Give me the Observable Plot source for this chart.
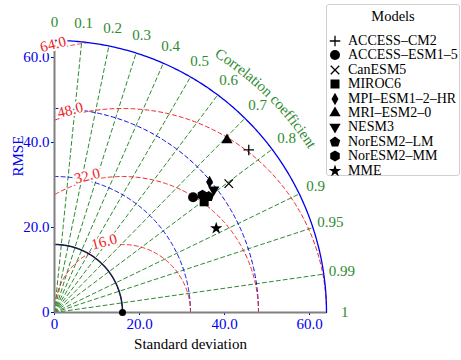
<!DOCTYPE html>
<html><head><meta charset="utf-8">
<script src="https://cdn.jsdelivr.net/npm/d3@7"></script>
<script src="https://cdn.jsdelivr.net/npm/@observablehq/plot@0.6"></script>
<style>
body{margin:0;background:#fff;}
#wrap{position:relative;width:461px;height:360px;font-family:"Times New Roman","Liberation Serif","DejaVu Serif",serif;overflow:hidden;}
#legend{position:absolute;left:326px;top:4px;width:134px;height:172px;border:1px solid #d0d0d0;border-radius:3px;background:#fff;box-sizing:border-box;font-size:14px;color:#000;}
#legend .title{position:absolute;left:0;right:0;top:3px;text-align:center;font-size:14.5px;}
#legend .row{position:absolute;left:0;height:14px;line-height:14px;white-space:nowrap;}
#legend .row svg{position:absolute;left:0;top:0;}
#legend .row span{position:absolute;left:21px;top:0;}
#f1{font-family:"Liberation Serif";} #f2{font-family:"DejaVu Serif";} #f3{font-family:"Times New Roman";} #f4{font-family:serif;}
#fonts{position:absolute;left:0;top:0;font-size:12px;}
</style></head><body><div id="wrap"></div>
<script>
// ---- data ----
const models = ["ACCESS–CM2","ACCESS–ESM1–5","CanESM5","MIROC6","MPI–ESM1–2–HR","MRI–ESM2–0","NESM3","NorESM2–LM","NorESM2–MM","MME"];
const stdDev = [59.6, 42.4, 51.0, 43.8, 47.7, 57.4, 47.3, 45.4, 44.4, 42.9];
const corrCoef = [0.767, 0.769, 0.804, 0.804, 0.765, 0.707, 0.792, 0.799, 0.784, 0.887];
const markerKinds = ["plus","circle","x","square","thindiamond","triangle","triangledown","pentagon","hexagon","star"];
const refStd = 16;
const maxStd = 64;
const corrLabels = [0,0.1,0.2,0.3,0.4,0.5,0.6,0.7,0.8,0.9,0.95,0.99,1];
const corrLines = [0.1,0.2,0.3,0.4,0.5,0.6,0.7,0.8,0.9,0.95,0.99];
const rmseLevels = [16,32,48,64];
const stdArcs = [16,32,48];
const axisTicks = [0,20,40,60];

const FONT = "'Times New Roman', 'Liberation Serif', 'DejaVu Serif', serif";
// ---- colors ----
const GREEN = "#2e8b2e", BLUE = "#0000ee", RED = "#ee2222";

// ---- symbols ----
function polySym(pts){return {draw(ctx,size){const R=Math.sqrt(size/Math.PI);pts.forEach(([px,py],i)=>i?ctx.lineTo(px*R,py*R):ctx.moveTo(px*R,py*R));ctx.closePath();}};}
const regular=(n,rot,k)=>d3.range(n).map(i=>{const a=rot+2*Math.PI*i/n;return [k*Math.cos(a),k*Math.sin(a)];});
const starPts=d3.range(10).map(i=>{const a=-Math.PI/2+Math.PI*i/5;const k=i%2?0.5:1.3;return [k*Math.cos(a),k*Math.sin(a)];});
const symbols={
  plus:{draw(ctx,size){const R=Math.sqrt(size/Math.PI)*1.05;ctx.moveTo(-R,0);ctx.lineTo(R,0);ctx.moveTo(0,-R);ctx.lineTo(0,R);}},
  x:{draw(ctx,size){const R=Math.sqrt(size/Math.PI)*0.85;ctx.moveTo(-R,-R);ctx.lineTo(R,R);ctx.moveTo(-R,R);ctx.lineTo(R,-R);}},
  circle:d3.symbolCircle,
  square:polySym([[-.9,-.9],[.9,-.9],[.9,.9],[-.9,.9]]),
  thindiamond:polySym([[0,-1.25],[.7,0],[0,1.25],[-.7,0]]),
  triangle:polySym(regular(3,-Math.PI/2,1.3)),
  triangledown:polySym(regular(3,Math.PI/2,1.3)),
  pentagon:polySym(regular(5,-Math.PI/2,1.1)),
  hexagon:polySym(regular(6,-Math.PI/2,1.1)),
  star:polySym(starPts)
};
const stroked = k => k==="plus"||k==="x";

// ---- geometry helpers ----
const N=240;
function arcPts(cx,r,t0,t1,key){return d3.range(N+1).map(i=>{const t=t0+(t1-t0)*i/N;return {x:cx+r*Math.cos(t),y:r*Math.sin(t),k:key};});}
const stdArcData = stdArcs.flatMap(r=>arcPts(0,r,0,Math.PI/2,r));
const outerArc = arcPts(0,maxStd,0,Math.PI/2,"o");
const refArc = arcPts(0,refStd,0,Math.PI/2,"ref");
const rmseArcData = rmseLevels.flatMap(L=>{
  const c1=((maxStd*maxStd+refStd*refStd-L*L)/(2*refStd)-refStd)/L;
  const t0=Math.acos(Math.min(1,c1));
  const t1=Math.acos(Math.max(-1,-refStd/L));
  return arcPts(refStd,L,t0,t1,L);
});
const corrLineData = corrLines.flatMap(c=>{const s=Math.sqrt(1-c*c);return [{x:0,y:0,k:c},{x:maxStd*c,y:maxStd*s,k:c}];});

// curved "Correlation coefficient"
const title="Correlation coefficient";
const cv=document.createElement("canvas").getContext("2d");
cv.font="15px "+FONT;
const pxPerUnit=(326-54)/maxStd;
const rT=72.2, RpT=rT*pxPerUnit, thC=45.4*Math.PI/180;
const totalW=cv.measureText(title).width;
let acc=0;
const titleChars=[...title].map(ch=>{const w=cv.measureText(ch).width;const s=acc+w/2;acc+=w;return {ch,s};}).map(({ch,s})=>{const th=thC+(totalW/2-s)/RpT;return {ch,x:rT*Math.cos(th),y:rT*Math.sin(th),rot:90-th*180/Math.PI};});

const pts = models.map((m,i)=>({m,i,x:stdDev[i]*corrCoef[i],y:stdDev[i]*Math.sqrt(1-corrCoef[i]**2),kind:markerKinds[i]}));

const labA=104.5*Math.PI/180;
const rmseLab = rmseLevels.map(L=>({L,x:refStd+(L+1.2)*Math.cos(labA),y:(L+1.2)*Math.sin(labA)}));
const fmt = d=>d===0?"0":d.toFixed(1);

const plot = Plot.plot({
  width:461,height:360,
  marginLeft:54,marginRight:135,marginTop:40,marginBottom:48,
  style:{fontFamily:FONT,fontSize:"15px",color:BLUE,background:"transparent"},
  x:{domain:[0,maxStd],ticks:axisTicks,tickFormat:fmt,tickSize:3,tickPadding:3,label:null},
  y:{domain:[0,maxStd],ticks:axisTicks,tickFormat:fmt,tickSize:3,tickPadding:2,label:null},
  marks:[
    Plot.line(corrLineData,{x:"x",y:"y",z:"k",stroke:GREEN,strokeWidth:1,strokeDasharray:"4,3"}),
    Plot.line(stdArcData,{x:"x",y:"y",z:"k",stroke:BLUE,strokeWidth:1,strokeDasharray:"4,3"}),
    Plot.line(rmseArcData,{x:"x",y:"y",z:"k",stroke:RED,strokeWidth:1,strokeDasharray:"4,3"}),
    Plot.line(outerArc,{x:"x",y:"y",stroke:BLUE,strokeWidth:1.3}),
    Plot.line(refArc,{x:"x",y:"y",stroke:"#1a1a40",strokeWidth:1.5}),
    Plot.ruleX([0],{y1:0,y2:maxStd,stroke:"#808080",strokeWidth:2}),
    Plot.ruleY([0],{x1:0,x2:maxStd,stroke:"#808080",strokeWidth:2}),
    Plot.text(rmseLab,{x:"x",y:"y",text:d=>d.L.toFixed(1),rotate:-14.5,fill:"white",stroke:"white",strokeWidth:4,fontSize:15}),
    Plot.text(rmseLab,{x:"x",y:"y",text:d=>d.L.toFixed(1),rotate:-14.5,fill:RED,fontSize:15}),
    Plot.text(corrLabels,{x:c=>68.3*c,y:c=>68.3*Math.sqrt(1-c*c),text:c=>String(c),fill:GREEN,fontSize:15}),
    Plot.text(titleChars,{x:"x",y:"y",text:"ch",rotate:"rot",fill:GREEN,fontSize:15}),
    ...pts.map(p=>Plot.dot([p],{x:"x",y:"y",symbol:symbols[p.kind],r:5,fill:stroked(p.kind)?"none":"black",stroke:stroked(p.kind)?"black":"none",strokeWidth:1.3})),
    Plot.dot([refStd],{x:d=>d,y:0,r:3.5,fill:"black"}),
    Plot.text(["Standard deviation"],{frameAnchor:"bottom",dy:36,fill:"black",fontSize:15}),
    Plot.text(["RMSE"],{frameAnchor:"left",dx:-36,rotate:-90,fill:BLUE,fontSize:15})
  ]
});
const wrap=document.getElementById("wrap");
wrap.appendChild(plot);

// legend
const leg=document.createElement("div");leg.id="legend";
const t=document.createElement("div");t.className="title";t.textContent="Models";leg.appendChild(t);
models.forEach((m,i)=>{
  const row=document.createElement("div");row.className="row";row.style.top=(29+i*14.4)+"px";row.style.left="0px";
  const k=markerKinds[i];
  const path=d3.symbol().type(symbols[k]).size(Math.PI*25)();
  row.innerHTML=`<svg width="16" height="14" style="left:0px"><path transform="translate(8,7)" d="${path}" fill="${stroked(k)?"none":"black"}" stroke="${stroked(k)?"black":"none"}" stroke-width="1.3"/></svg><span>${m}</span>`;
  leg.appendChild(row);
});
wrap.appendChild(leg);
</script></body></html>
